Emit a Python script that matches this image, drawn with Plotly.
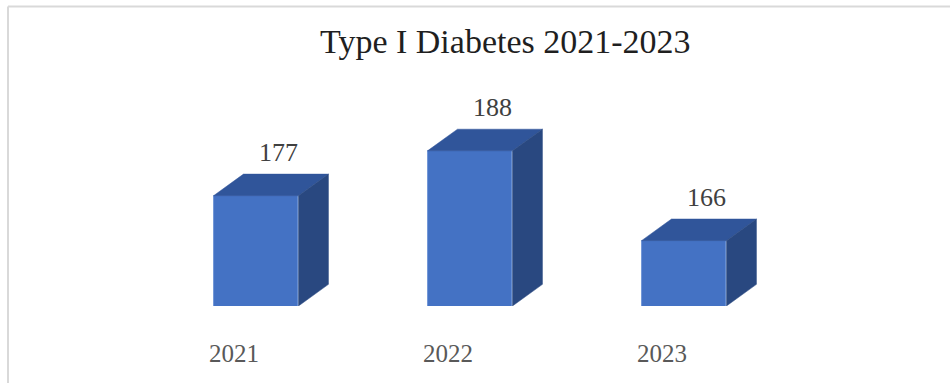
import plotly.graph_objects as go

# Type I diabetes cases per year
years = ["2021", "2022", "2023"]
cases = [177, 188, 166]

# Axis floor and pseudo-3D depth of each column (in axis units)
FLOOR = 150
BAR_W = 0.397
DEPTH_X = 0.14
DEPTH_Y = 5.3

FRONT = "#4472C4"
TOP = "#30559A"
SIDE = "#294880"

xs = list(range(len(years)))
fig = go.Figure()

# Front faces
fig.add_trace(go.Bar(
    x=xs, y=cases, width=BAR_W,
    marker=dict(color=FRONT, line=dict(color="#5B86D0", width=0.8)),
    hoverinfo="skip", showlegend=False,
))

# Top and side faces of each column, derived from the same values
for x, v in zip(xs, cases):
    l, r = x - BAR_W / 2, x + BAR_W / 2
    fig.add_trace(go.Scatter(
        x=[l, r, r + DEPTH_X, l + DEPTH_X, l],
        y=[v, v, v + DEPTH_Y, v + DEPTH_Y, v],
        mode="lines", fill="toself", fillcolor=TOP,
        line=dict(color=TOP, width=0.5),
        hoverinfo="skip", showlegend=False,
    ))
    fig.add_trace(go.Scatter(
        x=[r, r + DEPTH_X, r + DEPTH_X, r, r],
        y=[FLOOR, FLOOR + DEPTH_Y, v + DEPTH_Y, v, FLOOR],
        mode="lines", fill="toself", fillcolor=SIDE,
        line=dict(color=SIDE, width=0.5),
        hoverinfo="skip", showlegend=False,
    ))
    # value label above the column
    fig.add_annotation(
        x=x + 0.103, y=v + DEPTH_Y, text=str(v),
        showarrow=False, yanchor="bottom", yshift=5,
        font=dict(family="Liberation Serif", size=26, color="#404040"),
    )

fig.add_annotation(
    xref="paper", yref="paper", x=0.542, y=1.08,
    text="Type I Diabetes 2021-2023", showarrow=False,
    xanchor="center", yanchor="middle",
    font=dict(family="Liberation Serif", size=34, color="#1F1F1F"),
)

# Chart frame
frame = dict(color="#D9D9D9", width=2)
fig.add_shape(type="line", xref="paper", yref="paper",
              x0=-0.0397, x1=-0.0397, y0=1.2224, y1=-0.4, line=frame)
fig.add_shape(type="line", xref="paper", yref="paper",
              x0=-0.0397, x1=1.2, y0=1.2224, y1=1.2224, line=frame)

fig.update_layout(
    width=950, height=383,
    margin=dict(l=42, r=52, t=61, b=77),
    paper_bgcolor="white", plot_bgcolor="white",
    bargap=0,
    xaxis=dict(
        range=[-1, 3], showgrid=False, zeroline=False, showline=False,
        tickmode="array", tickvals=[x - 0.103 for x in xs], ticktext=years,
        ticks="", ticklabelstandoff=30,
        tickfont=dict(family="Liberation Serif", size=25, color="#595959"),
        fixedrange=True,
    ),
    yaxis=dict(range=[FLOOR, 210], visible=False, fixedrange=True),
)

fig.write_html("out.html", config={"displayModeBar": False})
